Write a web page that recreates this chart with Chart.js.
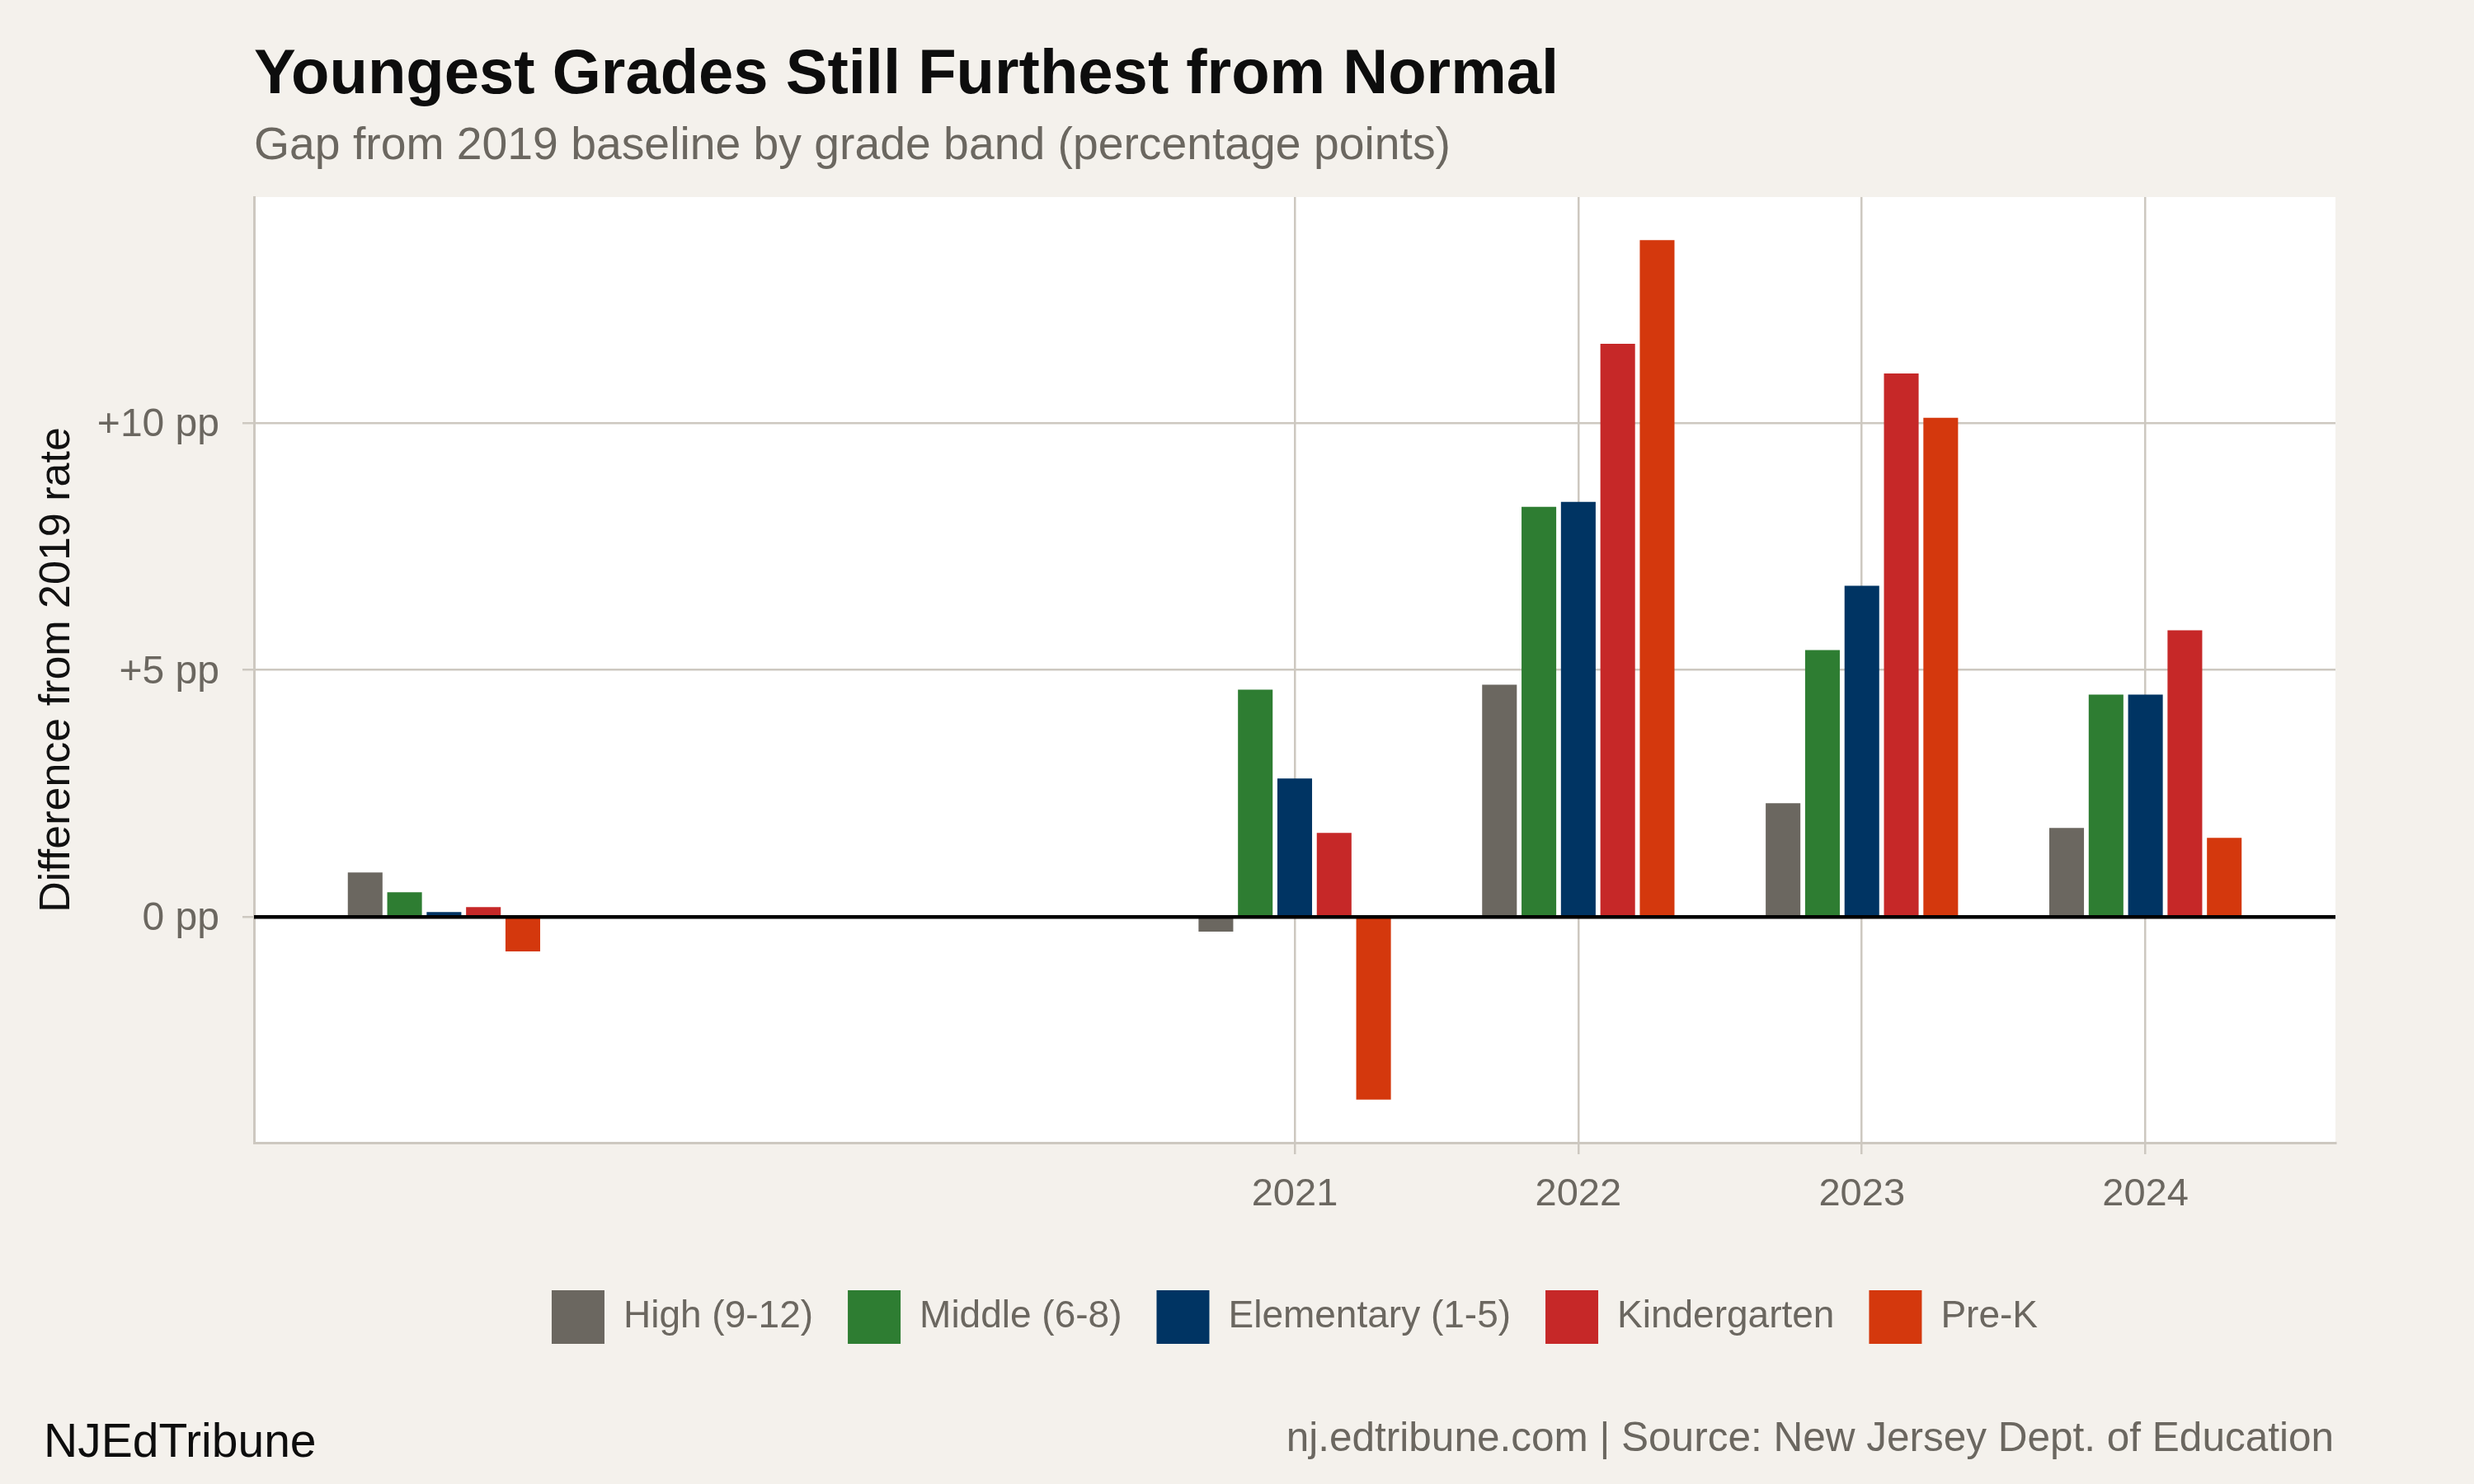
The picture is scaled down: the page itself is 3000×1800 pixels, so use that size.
<!DOCTYPE html>
<html>
<head>
<meta charset="utf-8">
<title>Youngest Grades Still Furthest from Normal</title>
<script src="https://cdn.jsdelivr.net/npm/chart.js@4.4.1/dist/chart.umd.min.js"></script>
<style>
  html, body { margin: 0; padding: 0; background: #f4f1ec; }
  canvas { display: block; }
</style>
</head>
<body>
<canvas id="gapChart" width="3000" height="1800"></canvas>
<script>
// school years (first group has no tick label)
const years = [2018, 2021, 2022, 2023, 2024];
const yearTicks = [2021, 2022, 2023, 2024];
const ppTicks = [0, 5, 10];

// gap from 2019 baseline, percentage points
const highVals = [0.9, -0.3, 4.7, 2.3, 1.8];
const middleVals = [0.5, 4.6, 8.3, 5.4, 4.5];
const elementaryVals = [0.1, 2.8, 8.4, 6.7, 4.5];
const kinderVals = [0.2, 1.7, 11.6, 11.0, 5.8];
const preKVals = [-0.7, -3.7, 13.7, 10.1, 1.6];

const bandNames = ['High (9-12)', 'Middle (6-8)', 'Elementary (1-5)', 'Kindergarten', 'Pre-K'];
const bandColors = ['#6b6760', '#2e7d32', '#003463', '#c62828', '#d4380d'];
const bandValues = [highVals, middleVals, elementaryVals, kinderVals, preKVals];

const grey = '#6b6760';
const gridGrey = '#cdc8c0';
const legendPad = 42;

Chart.defaults.font.family = '"Liberation Sans", Arial, Helvetica, sans-serif';

const framePlugin = {
  id: 'frame',
  afterLayout(chart) {
    // keep the legend centred under the panel
    const a = chart.chartArea;
    if (chart.legend) {
      chart.legend.left = a.left;
      chart.legend.right = a.right;
    }
  },
  beforeDraw(chart) {
    const ctx = chart.ctx;
    const a = chart.chartArea;
    ctx.save();
    ctx.fillStyle = '#f4f1ec';
    ctx.fillRect(0, 0, chart.width, chart.height);
    ctx.fillStyle = '#ffffff';
    ctx.fillRect(a.left, a.top, a.right - a.left, a.bottom - a.top);
    ctx.restore();
  },
  afterDatasetsDraw(chart) {
    const ctx = chart.ctx;
    const a = chart.chartArea;
    const y0 = chart.scales.y.getPixelForValue(0);
    ctx.save();
    ctx.strokeStyle = '#000000';
    ctx.lineWidth = 4.5;
    ctx.beginPath();
    ctx.moveTo(a.left, y0);
    ctx.lineTo(a.right, y0);
    ctx.stroke();
    ctx.restore();
  },
  afterDraw(chart) {
    const ctx = chart.ctx;
    const a = chart.chartArea;
    const fam = Chart.defaults.font.family;
    ctx.save();
    ctx.textBaseline = 'alphabetic';
    ctx.textAlign = 'left';
    ctx.fillStyle = '#0d0d0d';
    ctx.font = 'bold 76px ' + fam;
    ctx.fillText('Youngest Grades Still Furthest from Normal', a.left, 113);
    ctx.fillStyle = grey;
    ctx.font = '55.3px ' + fam;
    ctx.fillText('Gap from 2019 baseline by grade band (percentage points)', a.left, 193);
    // footer
    ctx.fillStyle = '#0d0d0d';
    ctx.font = '57px ' + fam;
    ctx.fillText('NJEdTribune', 53, 1767);
    ctx.fillStyle = grey;
    ctx.font = '49.5px ' + fam;
    ctx.textAlign = 'right';
    ctx.fillText('nj.edtribune.com | Source: New Jersey Dept. of Education', a.right - 2, 1760);
    ctx.restore();
  }
};

const datasets = bandNames.map((name, i) => ({
  label: name,
  data: years.map((yr, j) => ({ x: yr, y: bandValues[i][j] })),
  backgroundColor: bandColors[i],
  borderWidth: 0,
  categoryPercentage: 0.695,
  barPercentage: 0.88
}));

new Chart(document.getElementById('gapChart'), {
  type: 'bar',
  data: { datasets: datasets },
  options: {
    responsive: false,
    devicePixelRatio: 1,
    animation: false,
    layout: { padding: { top: 239, right: 168, bottom: 160, left: 0 } },
    plugins: {
      tooltip: { enabled: false },
      title: { display: false },
      legend: {
        position: 'bottom',
        labels: {
          boxWidth: 64,
          boxHeight: 65,
          padding: legendPad,
          color: grey,
          font: { size: 46 }
        }
      }
    },
    scales: {
      x: {
        type: 'linear',
        min: 2017.33,
        max: 2024.67,
        offset: false,
        grid: { offset: false, color: gridGrey, lineWidth: 2.5, tickLength: 14, drawTicks: true },
        border: { color: gridGrey, width: 3 },
        afterBuildTicks: (scale) => { scale.ticks = yearTicks.map(v => ({ value: v })); },
        afterFit: (scale) => { scale.height = 179 - legendPad; },
        ticks: {
          autoSkip: false,
          maxRotation: 0,
          padding: 21,
          color: grey,
          font: { size: 47 },
          callback: (v) => String(v)
        }
      },
      y: {
        type: 'linear',
        min: -4.57,
        max: 14.57,
        grid: { color: gridGrey, lineWidth: 2.5, tickLength: 14, drawTicks: true },
        border: { color: gridGrey, width: 3 },
        afterBuildTicks: (scale) => { scale.ticks = ppTicks.map(v => ({ value: v })); },
        afterFit: (scale) => { scale.width = 308; },
        ticks: {
          padding: 28,
          labelOffset: 3,
          color: grey,
          font: { size: 48 },
          callback: (v) => (v === 0 ? '0 pp' : '+' + v + ' pp')
        },
        title: {
          display: true,
          text: 'Difference from 2019 rate',
          color: '#111111',
          font: { size: 52 },
          padding: { top: 38, bottom: 0 }
        }
      }
    }
  },
  plugins: [framePlugin]
});
</script>
</body>
</html>
